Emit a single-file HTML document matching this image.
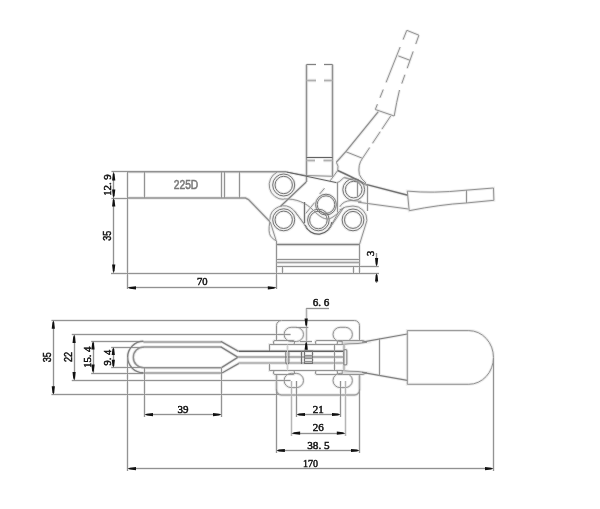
<!DOCTYPE html>
<html><head><meta charset="utf-8"><style>
html,body{margin:0;padding:0;background:#fff;width:600px;height:509px;overflow:hidden}
svg{display:block;will-change:transform}

</style></head><body><div id="w">
<svg width="600" height="509" viewBox="0 0 600 509">
<rect width="600" height="509" fill="#fff"/>
<g><line x1="111.5" y1="171.5" x2="128" y2="171.5" stroke="#ececec" stroke-width="3.0"/>
<line x1="111.5" y1="198.5" x2="128" y2="198.5" stroke="#ececec" stroke-width="3.0"/>
<line x1="111" y1="273.5" x2="128" y2="273.5" stroke="#ececec" stroke-width="3.0"/>
<line x1="113.5" y1="172" x2="113.5" y2="273" stroke="#ececec" stroke-width="3.0"/>
<polyline points="127.5,171.8 286.5,171.8" fill="none" stroke="#ececec" stroke-width="3.5"/>
<polyline points="286.5,172 306,175.5 332.5,176.3" fill="none" stroke="#ececec" stroke-width="3.0"/>
<polyline points="127.5,198 245.5,198 248.5,199.5 270,221.8" fill="none" stroke="#ececec" stroke-width="3.4"/>
<line x1="127.5" y1="172" x2="127.5" y2="289" stroke="#ececec" stroke-width="3.0"/>
<line x1="144.5" y1="172" x2="144.5" y2="198" stroke="#ececec" stroke-width="3.0"/>
<line x1="221.5" y1="172" x2="221.5" y2="198" stroke="#ececec" stroke-width="3.0"/>
<line x1="224.5" y1="172" x2="224.5" y2="198" stroke="#ececec" stroke-width="3.0"/>
<line x1="239.5" y1="172" x2="239.5" y2="198" stroke="#ececec" stroke-width="3.0"/>
<line x1="127.5" y1="273.5" x2="379" y2="273.5" stroke="#ececec" stroke-width="3.0"/>
<line x1="276.5" y1="273" x2="276.5" y2="289" stroke="#ececec" stroke-width="3.0"/>
<line x1="127.5" y1="287.5" x2="276.3" y2="287.5" stroke="#ececec" stroke-width="3.0"/>
<line x1="306.5" y1="64.5" x2="306.5" y2="182" stroke="#ececec" stroke-width="3.4"/>
<line x1="332.5" y1="64.5" x2="332.5" y2="176.5" stroke="#ececec" stroke-width="3.4"/>
<line x1="306.5" y1="64.5" x2="316" y2="64.5" stroke="#ececec" stroke-width="3.0"/>
<line x1="324" y1="64.5" x2="332.5" y2="64.5" stroke="#ececec" stroke-width="3.0"/>
<line x1="306.5" y1="80.5" x2="316" y2="80.5" stroke="#ececec" stroke-width="3.6"/>
<line x1="324" y1="80.5" x2="332.5" y2="80.5" stroke="#ececec" stroke-width="3.6"/>
<line x1="306.5" y1="157.5" x2="332.5" y2="157.5" stroke="#ececec" stroke-width="3.0"/>
<line x1="306.5" y1="160.5" x2="315" y2="160.5" stroke="#ececec" stroke-width="3.6"/>
<line x1="323.5" y1="160.5" x2="332.5" y2="160.5" stroke="#ececec" stroke-width="3.6"/>
<line x1="306.2" y1="182" x2="280.6" y2="206.2" stroke="#ececec" stroke-width="3.3"/>
<line x1="286.5" y1="172" x2="336.3" y2="182.6" stroke="#ececec" stroke-width="3.0"/>
<polyline points="406.8,30.3 418.9,35.2" fill="none" stroke="#ececec" stroke-width="3.0"/>
<line x1="406.8" y1="30.3" x2="403.1" y2="39.6" stroke="#ececec" stroke-width="3.0"/>
<line x1="400.16" y1="47" x2="386.08" y2="82.4" stroke="#ececec" stroke-width="3.0"/>
<line x1="383.25" y1="89.5" x2="379.99" y2="97.7" stroke="#ececec" stroke-width="3.0"/>
<line x1="377.41" y1="104.2" x2="375.3" y2="109.5" stroke="#ececec" stroke-width="3.0"/>
<line x1="418.9" y1="35.2" x2="415.75" y2="44.1" stroke="#ececec" stroke-width="3.0"/>
<line x1="413.16" y1="51.4" x2="407.18" y2="68.3" stroke="#ececec" stroke-width="3.0"/>
<line x1="404.92" y1="74.7" x2="401.77" y2="83.6" stroke="#ececec" stroke-width="3.0"/>
<path d="M399.5,90 Q396.5,102 394.2,116" fill="none" stroke="#ececec" stroke-width="3.0"/>
<line x1="398.3" y1="55.9" x2="410" y2="60.3" stroke="#ececec" stroke-width="3.0"/>
<line x1="375.3" y1="109.5" x2="394.2" y2="116" stroke="#ececec" stroke-width="3.0"/>
<polyline points="378.3,111.7 345.8,151.7 336.3,162.2" fill="none" stroke="#ececec" stroke-width="3.3"/>
<line x1="390.8" y1="115.8" x2="381.88" y2="129.2" stroke="#ececec" stroke-width="3.0"/>
<line x1="380.21" y1="131.7" x2="372.49" y2="143.3" stroke="#ececec" stroke-width="3.0"/>
<line x1="369.69" y1="147.5" x2="362.5" y2="158.3" stroke="#ececec" stroke-width="3.0"/>
<path d="M362.5,158.3 Q357.5,165 359.4,174.6 Q361,179 366,183" fill="none" stroke="#ececec" stroke-width="3.0"/>
<line x1="345.8" y1="151.7" x2="362.5" y2="158.3" stroke="#ececec" stroke-width="3.0"/>
<path d="M336.3,162.2 Q339,166 337.7,170.5" fill="none" stroke="#ececec" stroke-width="3.0"/>
<line x1="337.7" y1="170.5" x2="329.4" y2="181.8" stroke="#ececec" stroke-width="3.0"/>
<path d="M337.7,170.5 Q350,176 366,184.4 L407.8,195.2" fill="none" stroke="#ececec" stroke-width="3.5"/>
<polyline points="336.3,182.8 339.2,181.8 344.1,177.4" fill="none" stroke="#ececec" stroke-width="3.0"/>
<path d="M344.1,177.4 Q358,180.5 367.5,185.6" fill="none" stroke="#ececec" stroke-width="3.5"/>
<line x1="358" y1="202.2" x2="408.3" y2="209" stroke="#ececec" stroke-width="3.0"/>
<path d="M407.3,191.1 Q432,193.6 466,190.2 L493.5,188 L493.9,200.3 L466,203 Q440,204.5 409.2,210.7 Z" fill="none" stroke="#ececec" stroke-width="3.0"/>
<line x1="466.5" y1="190.2" x2="466.5" y2="203" stroke="#ececec" stroke-width="3.0"/>
<circle cx="283.7" cy="185" r="8.7" fill="none" stroke="#ececec" stroke-width="3.0"/>
<circle cx="283.7" cy="185" r="11" fill="none" stroke="#ececec" stroke-width="3.0"/>
<circle cx="283.7" cy="219.8" r="8.7" fill="none" stroke="#ececec" stroke-width="3.0"/>
<circle cx="283.7" cy="219.8" r="11" fill="none" stroke="#ececec" stroke-width="3.0"/>
<circle cx="326" cy="204.6" r="8.8" fill="none" stroke="#ececec" stroke-width="3.0"/>
<circle cx="326" cy="204.6" r="10.4" fill="none" stroke="#ececec" stroke-width="3.0"/>
<circle cx="318.4" cy="220" r="8.8" fill="none" stroke="#ececec" stroke-width="3.0"/>
<circle cx="318.4" cy="220" r="10.8" fill="none" stroke="#ececec" stroke-width="3.0"/>
<circle cx="353.7" cy="189.6" r="8.3" fill="none" stroke="#ececec" stroke-width="3.0"/>
<circle cx="353.7" cy="189.6" r="10.9" fill="none" stroke="#ececec" stroke-width="3.0"/>
<circle cx="353" cy="219.9" r="8.5" fill="none" stroke="#ececec" stroke-width="3.0"/>
<circle cx="353" cy="219.9" r="10.9" fill="none" stroke="#ececec" stroke-width="3.0"/>
<path d="M277,172.2 A14.4,14.4 0 0 0 283.7,199.4" fill="none" stroke="#ececec" stroke-width="3.0"/>
<path d="M269.9,219.7 A13.8,13.8 0 0 1 293.46,209.94" fill="none" stroke="#ececec" stroke-width="3.0"/>
<line x1="293.46" y1="209.94" x2="304.2" y2="223.6" stroke="#ececec" stroke-width="3.0"/>
<path d="M305,225 A14,14 0 0 0 332,222" fill="none" stroke="#ececec" stroke-width="3.3"/>
<path d="M339.5,210 Q345,206 353,206 A13.9,13.9 0 0 1 366.9,220.5" fill="none" stroke="#ececec" stroke-width="3.0"/>
<line x1="366.9" y1="220.5" x2="359.5" y2="244.5" stroke="#ececec" stroke-width="3.0"/>
<line x1="367.5" y1="184.5" x2="367.5" y2="211" stroke="#ececec" stroke-width="3.0"/>
<path d="M283.6,198.9 C297,198.5 306,203 313,210 C319,216 323,219 328,219 C333,218.5 339,212 344,207.5" fill="none" stroke="#ececec" stroke-width="3.0"/>
<line x1="304.5" y1="202" x2="304.5" y2="223.2" stroke="#ececec" stroke-width="3.2"/>
<line x1="337.5" y1="182.8" x2="337.5" y2="212.4" stroke="#ececec" stroke-width="3.0"/>
<line x1="357.5" y1="181" x2="357.5" y2="196.3" stroke="#ececec" stroke-width="3.0"/>
<line x1="324.5" y1="188.2" x2="319.6" y2="194.1" stroke="#ececec" stroke-width="3.0"/>
<line x1="314.6" y1="202.6" x2="305.8" y2="213.4" stroke="#ececec" stroke-width="3.0"/>
<line x1="295" y1="211.4" x2="306.8" y2="228.1" stroke="#ececec" stroke-width="3.0"/>
<line x1="328.4" y1="230" x2="343.1" y2="208.5" stroke="#ececec" stroke-width="3.0"/>
<path d="M339.8,206.8 Q343,201 351,200.5 Q357,201 361.4,201.4" fill="none" stroke="#ececec" stroke-width="3.0"/>
<line x1="338.8" y1="211.7" x2="330" y2="227.4" stroke="#ececec" stroke-width="3.0"/>
<path d="M269.8,222 Q268,232 270.5,236 Q273,239.5 276.2,240.8" fill="none" stroke="#ececec" stroke-width="3.0"/>
<line x1="270.3" y1="222" x2="276.2" y2="240.8" stroke="#ececec" stroke-width="3.0"/>
<line x1="276.3" y1="244.5" x2="359.7" y2="244.5" stroke="#ececec" stroke-width="3.3"/>
<line x1="276.5" y1="240.8" x2="276.5" y2="273" stroke="#ececec" stroke-width="3.0"/>
<line x1="359.5" y1="244.9" x2="359.5" y2="273" stroke="#ececec" stroke-width="3.0"/>
<line x1="276.3" y1="259.5" x2="359.7" y2="259.5" stroke="#ececec" stroke-width="3.0"/>
<line x1="276.3" y1="262.5" x2="359.7" y2="262.5" stroke="#ececec" stroke-width="3.3"/>
<line x1="276.3" y1="266.5" x2="378.8" y2="266.5" stroke="#ececec" stroke-width="3.0"/>
<line x1="282.5" y1="266.6" x2="282.5" y2="273" stroke="#ececec" stroke-width="3.0"/>
<line x1="353.5" y1="266.6" x2="353.5" y2="273" stroke="#ececec" stroke-width="3.0"/>
<line x1="376.5" y1="253" x2="376.5" y2="266.6" stroke="#ececec" stroke-width="3.0"/>
<line x1="376.5" y1="273" x2="376.5" y2="283" stroke="#ececec" stroke-width="3.0"/>
<line x1="51.5" y1="320.5" x2="281" y2="320.5" stroke="#ececec" stroke-width="3.0"/>
<line x1="51.5" y1="394.5" x2="281" y2="394.5" stroke="#ececec" stroke-width="3.0"/>
<line x1="71.8" y1="334.5" x2="290.6" y2="334.5" stroke="#ececec" stroke-width="3.0"/>
<line x1="71.8" y1="380.5" x2="290.6" y2="380.5" stroke="#ececec" stroke-width="3.0"/>
<line x1="91.2" y1="341.5" x2="143.6" y2="341.5" stroke="#ececec" stroke-width="3.0"/>
<line x1="91.2" y1="373.5" x2="143.6" y2="373.5" stroke="#ececec" stroke-width="3.0"/>
<line x1="111.2" y1="347.5" x2="143.6" y2="347.5" stroke="#ececec" stroke-width="3.0"/>
<line x1="111.2" y1="367.5" x2="143.6" y2="367.5" stroke="#ececec" stroke-width="3.0"/>
<line x1="53.5" y1="320.2" x2="53.5" y2="394.8" stroke="#ececec" stroke-width="3.0"/>
<line x1="74.5" y1="334.4" x2="74.5" y2="380.5" stroke="#ececec" stroke-width="3.0"/>
<line x1="93.5" y1="341" x2="93.5" y2="373" stroke="#ececec" stroke-width="3.0"/>
<line x1="113.5" y1="347.1" x2="113.5" y2="367.8" stroke="#ececec" stroke-width="3.0"/>
<line x1="143.4" y1="342" x2="221.3" y2="342" stroke="#ececec" stroke-width="4.2"/>
<line x1="143.4" y1="373" x2="221.3" y2="373" stroke="#ececec" stroke-width="4.2"/>
<path d="M143.4,341.3 A15.75,15.75 0 0 0 143.4,372.8" fill="none" stroke="#ececec" stroke-width="3.4"/>
<path d="M221.3,347 L143.7,347 A10.4,10.4 0 0 0 143.7,367.8 L221.3,367.8" fill="none" stroke="#ececec" stroke-width="3.5"/>
<polyline points="220.8,341.3 238.5,351.3" fill="none" stroke="#ececec" stroke-width="3.4"/>
<polyline points="220.8,346.8 237.7,357.2" fill="none" stroke="#ececec" stroke-width="3.4"/>
<polyline points="221.5,367.7 237.7,357.4" fill="none" stroke="#ececec" stroke-width="3.4"/>
<polyline points="222,373 239.4,363.1" fill="none" stroke="#ececec" stroke-width="3.4"/>
<line x1="144.5" y1="367.8" x2="144.5" y2="417" stroke="#ececec" stroke-width="3.0"/>
<line x1="221.5" y1="367.8" x2="221.5" y2="417" stroke="#ececec" stroke-width="3.0"/>
<line x1="144.5" y1="414.5" x2="221.5" y2="414.5" stroke="#ececec" stroke-width="3.0"/>
<line x1="127.5" y1="357" x2="127.5" y2="471" stroke="#ececec" stroke-width="3.0"/>
<line x1="493.5" y1="358" x2="493.5" y2="471" stroke="#ececec" stroke-width="3.0"/>
<line x1="127.5" y1="468.5" x2="493.5" y2="468.5" stroke="#ececec" stroke-width="3.0"/>
<path d="M276.5,340.5 L276.5,325.5 A5,5 0 0 1 281.5,320.5 L354.5,320.5 A5,5 0 0 1 359.5,325.5 L359.5,340.5" fill="none" stroke="#ececec" stroke-width="3.0"/>
<path d="M276.5,374.5 L276.5,390 A5,5 0 0 0 281.5,395 L354.5,395 A5,5 0 0 0 359.5,390 L359.5,374.5" fill="none" stroke="#ececec" stroke-width="3.5"/>
<path d="M291.2,327.29999999999995 L296.40000000000003,327.29999999999995 A7.1,7.1 0 0 1 296.40000000000003,341.5 L291.2,341.5 A7.1,7.1 0 0 1 291.2,327.29999999999995 Z" fill="none" stroke="#ececec" stroke-width="3.0"/>
<path d="M340.09999999999997,327.29999999999995 L345.3,327.29999999999995 A7.1,7.1 0 0 1 345.3,341.5 L340.09999999999997,341.5 A7.1,7.1 0 0 1 340.09999999999997,327.29999999999995 Z" fill="none" stroke="#ececec" stroke-width="3.0"/>
<path d="M291.2,373.4 L296.40000000000003,373.4 A7.1,7.1 0 0 1 296.40000000000003,387.6 L291.2,387.6 A7.1,7.1 0 0 1 291.2,373.4 Z" fill="none" stroke="#ececec" stroke-width="3.0"/>
<path d="M340.09999999999997,373.4 L345.3,373.4 A7.1,7.1 0 0 1 345.3,387.6 L340.09999999999997,387.6 A7.1,7.1 0 0 1 340.09999999999997,373.4 Z" fill="none" stroke="#ececec" stroke-width="3.0"/>
<rect x="273.5" y="340.5" width="21.0" height="4.0" rx="1.5" fill="none" stroke="#ececec" stroke-width="3.0"/>
<rect x="273.5" y="370.5" width="21.0" height="4.0" rx="1.5" fill="none" stroke="#ececec" stroke-width="3.0"/>
<rect x="315.5" y="340.5" width="22.0" height="4.0" rx="1.5" fill="none" stroke="#ececec" stroke-width="3.0"/>
<rect x="315.5" y="370.5" width="22.0" height="4.0" rx="1.5" fill="none" stroke="#ececec" stroke-width="3.0"/>
<line x1="337.5" y1="340.5" x2="342" y2="340.5" stroke="#ececec" stroke-width="3.0"/>
<line x1="337.5" y1="374.5" x2="342" y2="374.5" stroke="#ececec" stroke-width="3.0"/>
<path d="M342.2,344.5 L342.2,340.5 L362.9,340.5 L367,342.3 L358,343.5 L349,343.8 Z" fill="none" stroke="#ececec" stroke-width="3.0"/>
<path d="M342.2,370.5 L342.2,374.5 L362.9,374.5 L367,372.7 L358,371.5 L349,371.2 Z" fill="none" stroke="#ececec" stroke-width="3.0"/>
<polyline points="343.6,344.5 269.5,344.5 269.5,351" fill="none" stroke="#ececec" stroke-width="3.0"/>
<polyline points="343.6,370.5 269.5,370.5 269.5,363.5" fill="none" stroke="#ececec" stroke-width="3.0"/>
<polyline points="238.7,351.2 343.6,351.2" fill="none" stroke="#ececec" stroke-width="3.4"/>
<line x1="238" y1="357" x2="343.6" y2="357" stroke="#ececec" stroke-width="4.0"/>
<line x1="238.7" y1="363" x2="343.6" y2="363" stroke="#ececec" stroke-width="4.0"/>
<line x1="334.5" y1="344.5" x2="334.5" y2="370.5" stroke="#ececec" stroke-width="3.0"/>
<line x1="344" y1="344.5" x2="344" y2="370.5" stroke="#ececec" stroke-width="4.0"/>
<rect x="343.6" y="349.7" width="3.1999999999999886" height="15.100000000000023" rx="1" fill="none" stroke="#ececec" stroke-width="3.2"/>
<path d="M285.8,351 L285.8,362.5 Q285.8,364.3 287.3,364.3 Q288.9,364.3 288.9,362.5 L288.9,351" fill="none" stroke="#ececec" stroke-width="3.0"/>
<line x1="287.5" y1="344.5" x2="287.5" y2="370.5" stroke="#ececec" stroke-width="3.0"/>
<line x1="301.5" y1="351" x2="301.5" y2="364" stroke="#ececec" stroke-width="3.2"/>
<polygon points="304.5,351 312.5,351 312.5,363.5 304.5,363.5" fill="none" stroke="#ececec" stroke-width="3.1"/>
<line x1="304.4" y1="355.5" x2="312.7" y2="355.5" stroke="#ececec" stroke-width="3.0"/>
<line x1="304.4" y1="358.5" x2="312.7" y2="358.5" stroke="#ececec" stroke-width="3.0"/>
<line x1="304.4" y1="361.5" x2="312.7" y2="361.5" stroke="#ececec" stroke-width="3.0"/>
<line x1="362.1" y1="342.1" x2="407.3" y2="334" stroke="#ececec" stroke-width="3.2"/>
<line x1="362.1" y1="372.3" x2="407.3" y2="380.4" stroke="#ececec" stroke-width="3.2"/>
<line x1="379.5" y1="338.4" x2="379.5" y2="375.7" stroke="#ececec" stroke-width="3.0"/>
<path d="M468.8,330.6 L407.3,330.6 L407.3,384.3 L468.8,384.3 A24.7,26.85 0 0 0 468.8,330.6" fill="none" stroke="#ececec" stroke-width="3.0"/>
<line x1="306.5" y1="308.3" x2="306.5" y2="349.9" stroke="#ececec" stroke-width="3.2"/>
<line x1="306.2" y1="308.5" x2="329" y2="308.5" stroke="#ececec" stroke-width="3.0"/>
<line x1="296" y1="327.5" x2="308.3" y2="327.5" stroke="#ececec" stroke-width="3.0"/>
<line x1="300" y1="341.5" x2="312" y2="341.5" stroke="#ececec" stroke-width="3.0"/>
<line x1="296.5" y1="381" x2="296.5" y2="417" stroke="#ececec" stroke-width="3.0"/>
<line x1="340.5" y1="381" x2="340.5" y2="417" stroke="#ececec" stroke-width="3.0"/>
<line x1="296.5" y1="414.5" x2="340.5" y2="414.5" stroke="#ececec" stroke-width="3.0"/>
<line x1="291.5" y1="381" x2="291.5" y2="436" stroke="#ececec" stroke-width="3.0"/>
<line x1="345.5" y1="381" x2="345.5" y2="436" stroke="#ececec" stroke-width="3.0"/>
<line x1="291.6" y1="433.5" x2="345.3" y2="433.5" stroke="#ececec" stroke-width="3.0"/>
<line x1="276.5" y1="389" x2="276.5" y2="453" stroke="#ececec" stroke-width="3.0"/>
<line x1="359.5" y1="389" x2="359.5" y2="453" stroke="#ececec" stroke-width="3.0"/>
<line x1="276.4" y1="450.5" x2="359.5" y2="450.5" stroke="#ececec" stroke-width="3.0"/></g>
<line x1="111.5" y1="171.5" x2="128" y2="171.5" stroke="#939393" stroke-width="1.0"/>
<line x1="111.5" y1="198.5" x2="128" y2="198.5" stroke="#939393" stroke-width="1.0"/>
<line x1="111" y1="273.5" x2="128" y2="273.5" stroke="#939393" stroke-width="1.0"/>
<line x1="113.5" y1="172" x2="113.5" y2="273" stroke="#919191" stroke-width="1.0"/>
<polygon points="113.70,172.50 114.60,174.50 115.30,180.50 112.10,180.50 112.80,174.50" fill="#111"/>
<polygon points="113.70,197.50 112.80,195.50 112.10,189.50 115.30,189.50 114.60,195.50" fill="#111"/>
<polygon points="113.70,198.50 114.60,200.50 115.30,206.50 112.10,206.50 112.80,200.50" fill="#111"/>
<polygon points="113.70,272.50 112.80,270.50 112.10,264.50 115.30,264.50 114.60,270.50" fill="#111"/>
<text x="111.3" y="185" font-family="Liberation Serif" font-size="11" text-anchor="middle" fill="#111" stroke="#111" stroke-width="0.5" transform="rotate(-90 111.3 185)" textLength="21.5" lengthAdjust="spacingAndGlyphs" xml:space="preserve">12. 9</text>
<text x="111.5" y="235.8" font-family="Liberation Sans" font-size="10.5" text-anchor="middle" fill="#111" stroke="#111" stroke-width="0.5" transform="rotate(-90 111.5 235.8)" textLength="10" lengthAdjust="spacingAndGlyphs" xml:space="preserve">35</text>
<polyline points="127.5,171.8 286.5,171.8" fill="none" stroke="#919191" stroke-width="1.5"/>
<polyline points="286.5,172 306,175.5 332.5,176.3" fill="none" stroke="#939393" stroke-width="1.0"/>
<polyline points="127.5,198 245.5,198 248.5,199.5 270,221.8" fill="none" stroke="#919191" stroke-width="1.4"/>
<line x1="127.5" y1="172" x2="127.5" y2="289" stroke="#939393" stroke-width="1.0"/>
<line x1="144.5" y1="172" x2="144.5" y2="198" stroke="#939393" stroke-width="1.0"/>
<line x1="221.5" y1="172" x2="221.5" y2="198" stroke="#939393" stroke-width="1.0"/>
<line x1="224.5" y1="172" x2="224.5" y2="198" stroke="#939393" stroke-width="1.0"/>
<line x1="239.5" y1="172" x2="239.5" y2="198" stroke="#939393" stroke-width="1.0"/>
<text x="186" y="189" font-family="Liberation Sans" font-size="12" text-anchor="middle" fill="#777" stroke="#777" stroke-width="0.55" textLength="24.5" lengthAdjust="spacingAndGlyphs" xml:space="preserve">225D</text>
<line x1="127.5" y1="273.5" x2="379" y2="273.5" stroke="#939393" stroke-width="1.0"/>
<line x1="276.5" y1="273" x2="276.5" y2="289" stroke="#939393" stroke-width="1.0"/>
<line x1="127.5" y1="287.5" x2="276.3" y2="287.5" stroke="#919191" stroke-width="1.0"/>
<polygon points="128.00,287.80 130.00,286.90 136.00,286.20 136.00,289.40 130.00,288.70" fill="#111"/>
<polygon points="275.80,287.80 273.80,288.70 267.80,289.40 267.80,286.20 273.80,286.90" fill="#111"/>
<text x="202.3" y="285.1" font-family="Liberation Serif" font-size="11" text-anchor="middle" fill="#111" stroke="#111" stroke-width="0.5" textLength="10.6" lengthAdjust="spacingAndGlyphs" xml:space="preserve">70</text>
<line x1="306.5" y1="64.5" x2="306.5" y2="182" stroke="#919191" stroke-width="1.4"/>
<line x1="332.5" y1="64.5" x2="332.5" y2="176.5" stroke="#919191" stroke-width="1.4"/>
<line x1="306.5" y1="64.5" x2="316" y2="64.5" stroke="#818181" stroke-width="1.0"/>
<line x1="324" y1="64.5" x2="332.5" y2="64.5" stroke="#818181" stroke-width="1.0"/>
<line x1="306.5" y1="80.5" x2="316" y2="80.5" stroke="#b0b0b0" stroke-width="1.6"/>
<line x1="324" y1="80.5" x2="332.5" y2="80.5" stroke="#b0b0b0" stroke-width="1.6"/>
<line x1="306.5" y1="157.5" x2="332.5" y2="157.5" stroke="#626262" stroke-width="1.0"/>
<line x1="306.5" y1="160.5" x2="315" y2="160.5" stroke="#b0b0b0" stroke-width="1.6"/>
<line x1="323.5" y1="160.5" x2="332.5" y2="160.5" stroke="#b0b0b0" stroke-width="1.6"/>
<line x1="306.2" y1="182" x2="280.6" y2="206.2" stroke="#818181" stroke-width="1.3"/>
<line x1="286.5" y1="172" x2="336.3" y2="182.6" stroke="#626262" stroke-width="1.0"/>
<polyline points="406.8,30.3 418.9,35.2" fill="none" stroke="#939393" stroke-width="1.0"/>
<line x1="406.8" y1="30.3" x2="403.1" y2="39.6" stroke="#939393" stroke-width="1.0"/>
<line x1="400.16" y1="47" x2="386.08" y2="82.4" stroke="#939393" stroke-width="1.0"/>
<line x1="383.25" y1="89.5" x2="379.99" y2="97.7" stroke="#939393" stroke-width="1.0"/>
<line x1="377.41" y1="104.2" x2="375.3" y2="109.5" stroke="#939393" stroke-width="1.0"/>
<line x1="418.9" y1="35.2" x2="415.75" y2="44.1" stroke="#939393" stroke-width="1.0"/>
<line x1="413.16" y1="51.4" x2="407.18" y2="68.3" stroke="#939393" stroke-width="1.0"/>
<line x1="404.92" y1="74.7" x2="401.77" y2="83.6" stroke="#939393" stroke-width="1.0"/>
<path d="M399.5,90 Q396.5,102 394.2,116" fill="none" stroke="#939393" stroke-width="1.0"/>
<line x1="398.3" y1="55.9" x2="410" y2="60.3" stroke="#939393" stroke-width="1.0"/>
<line x1="375.3" y1="109.5" x2="394.2" y2="116" stroke="#939393" stroke-width="1.0"/>
<polyline points="378.3,111.7 345.8,151.7 336.3,162.2" fill="none" stroke="#919191" stroke-width="1.3"/>
<line x1="390.8" y1="115.8" x2="381.88" y2="129.2" stroke="#939393" stroke-width="1.0"/>
<line x1="380.21" y1="131.7" x2="372.49" y2="143.3" stroke="#939393" stroke-width="1.0"/>
<line x1="369.69" y1="147.5" x2="362.5" y2="158.3" stroke="#939393" stroke-width="1.0"/>
<path d="M362.5,158.3 Q357.5,165 359.4,174.6 Q361,179 366,183" fill="none" stroke="#939393" stroke-width="1.0"/>
<line x1="345.8" y1="151.7" x2="362.5" y2="158.3" stroke="#939393" stroke-width="1.0"/>
<path d="M336.3,162.2 Q339,166 337.7,170.5" fill="none" stroke="#939393" stroke-width="1.0"/>
<line x1="337.7" y1="170.5" x2="329.4" y2="181.8" stroke="#939393" stroke-width="1.0"/>
<path d="M337.7,170.5 Q350,176 366,184.4 L407.8,195.2" fill="none" stroke="#727272" stroke-width="1.5"/>
<polyline points="336.3,182.8 339.2,181.8 344.1,177.4" fill="none" stroke="#939393" stroke-width="1.0"/>
<path d="M344.1,177.4 Q358,180.5 367.5,185.6" fill="none" stroke="#a1a1a1" stroke-width="1.5"/>
<line x1="358" y1="202.2" x2="408.3" y2="209" stroke="#939393" stroke-width="1.0"/>
<path d="M407.3,191.1 Q432,193.6 466,190.2 L493.5,188 L493.9,200.3 L466,203 Q440,204.5 409.2,210.7 Z" fill="none" stroke="#939393" stroke-width="1.0"/>
<line x1="466.5" y1="190.2" x2="466.5" y2="203" stroke="#939393" stroke-width="1.0"/>
<circle cx="283.7" cy="185" r="8.7" fill="none" stroke="#757575" stroke-width="1.0"/>
<circle cx="283.7" cy="185" r="11" fill="none" stroke="#757575" stroke-width="1.0"/>
<circle cx="283.7" cy="219.8" r="8.7" fill="none" stroke="#757575" stroke-width="1.0"/>
<circle cx="283.7" cy="219.8" r="11" fill="none" stroke="#757575" stroke-width="1.0"/>
<circle cx="326" cy="204.6" r="8.8" fill="none" stroke="#757575" stroke-width="1.0"/>
<circle cx="326" cy="204.6" r="10.4" fill="none" stroke="#757575" stroke-width="1.0"/>
<circle cx="318.4" cy="220" r="8.8" fill="none" stroke="#757575" stroke-width="1.0"/>
<circle cx="318.4" cy="220" r="10.8" fill="none" stroke="#757575" stroke-width="1.0"/>
<circle cx="353.7" cy="189.6" r="8.3" fill="none" stroke="#757575" stroke-width="1.0"/>
<circle cx="353.7" cy="189.6" r="10.9" fill="none" stroke="#757575" stroke-width="1.0"/>
<circle cx="353" cy="219.9" r="8.5" fill="none" stroke="#757575" stroke-width="1.0"/>
<circle cx="353" cy="219.9" r="10.9" fill="none" stroke="#757575" stroke-width="1.0"/>
<path d="M277,172.2 A14.4,14.4 0 0 0 283.7,199.4" fill="none" stroke="#939393" stroke-width="1.0"/>
<path d="M269.9,219.7 A13.8,13.8 0 0 1 293.46,209.94" fill="none" stroke="#939393" stroke-width="1.0"/>
<line x1="293.46" y1="209.94" x2="304.2" y2="223.6" stroke="#939393" stroke-width="1.0"/>
<path d="M305,225 A14,14 0 0 0 332,222" fill="none" stroke="#626262" stroke-width="1.3"/>
<path d="M339.5,210 Q345,206 353,206 A13.9,13.9 0 0 1 366.9,220.5" fill="none" stroke="#939393" stroke-width="1.0"/>
<line x1="366.9" y1="220.5" x2="359.5" y2="244.5" stroke="#939393" stroke-width="1.0"/>
<line x1="367.5" y1="184.5" x2="367.5" y2="211" stroke="#939393" stroke-width="1.0"/>
<path d="M283.6,198.9 C297,198.5 306,203 313,210 C319,216 323,219 328,219 C333,218.5 339,212 344,207.5" fill="none" stroke="#939393" stroke-width="1.0"/>
<line x1="304.5" y1="202" x2="304.5" y2="223.2" stroke="#727272" stroke-width="1.2"/>
<line x1="337.5" y1="182.8" x2="337.5" y2="212.4" stroke="#939393" stroke-width="1.0"/>
<line x1="357.5" y1="181" x2="357.5" y2="196.3" stroke="#939393" stroke-width="1.0"/>
<line x1="324.5" y1="188.2" x2="319.6" y2="194.1" stroke="#939393" stroke-width="1.0"/>
<line x1="314.6" y1="202.6" x2="305.8" y2="213.4" stroke="#939393" stroke-width="1.0"/>
<line x1="295" y1="211.4" x2="306.8" y2="228.1" stroke="#939393" stroke-width="1.0"/>
<line x1="328.4" y1="230" x2="343.1" y2="208.5" stroke="#939393" stroke-width="1.0"/>
<path d="M339.8,206.8 Q343,201 351,200.5 Q357,201 361.4,201.4" fill="none" stroke="#939393" stroke-width="1.0"/>
<line x1="338.8" y1="211.7" x2="330" y2="227.4" stroke="#939393" stroke-width="1.0"/>
<path d="M269.8,222 Q268,232 270.5,236 Q273,239.5 276.2,240.8" fill="none" stroke="#939393" stroke-width="1.0"/>
<line x1="270.3" y1="222" x2="276.2" y2="240.8" stroke="#939393" stroke-width="1.0"/>
<line x1="276.3" y1="244.5" x2="359.7" y2="244.5" stroke="#818181" stroke-width="1.3"/>
<line x1="276.5" y1="240.8" x2="276.5" y2="273" stroke="#939393" stroke-width="1.0"/>
<line x1="359.5" y1="244.9" x2="359.5" y2="273" stroke="#939393" stroke-width="1.0"/>
<line x1="276.3" y1="259.5" x2="359.7" y2="259.5" stroke="#939393" stroke-width="1.0"/>
<line x1="276.3" y1="262.5" x2="359.7" y2="262.5" stroke="#a1a1a1" stroke-width="1.3"/>
<line x1="276.3" y1="266.5" x2="378.8" y2="266.5" stroke="#939393" stroke-width="1.0"/>
<line x1="282.5" y1="266.6" x2="282.5" y2="273" stroke="#939393" stroke-width="1.0"/>
<line x1="353.5" y1="266.6" x2="353.5" y2="273" stroke="#939393" stroke-width="1.0"/>
<line x1="376.5" y1="253" x2="376.5" y2="266.6" stroke="#919191" stroke-width="1.0"/>
<polygon points="376.60,266.10 375.70,264.10 375.00,258.10 378.20,258.10 377.50,264.10" fill="#111"/>
<line x1="376.5" y1="273" x2="376.5" y2="283" stroke="#919191" stroke-width="1.0"/>
<polygon points="376.60,273.50 377.50,275.50 378.20,281.50 375.00,281.50 375.70,275.50" fill="#111"/>
<text x="373.6" y="253.4" font-family="Liberation Serif" font-size="10.5" text-anchor="middle" fill="#111" stroke="#111" stroke-width="0.5" transform="rotate(-90 373.6 253.4)" xml:space="preserve">3</text>
<line x1="51.5" y1="320.5" x2="281" y2="320.5" stroke="#939393" stroke-width="1.0"/>
<line x1="51.5" y1="394.5" x2="281" y2="394.5" stroke="#939393" stroke-width="1.0"/>
<line x1="71.8" y1="334.5" x2="290.6" y2="334.5" stroke="#939393" stroke-width="1.0"/>
<line x1="71.8" y1="380.5" x2="290.6" y2="380.5" stroke="#939393" stroke-width="1.0"/>
<line x1="91.2" y1="341.5" x2="143.6" y2="341.5" stroke="#939393" stroke-width="1.0"/>
<line x1="91.2" y1="373.5" x2="143.6" y2="373.5" stroke="#939393" stroke-width="1.0"/>
<line x1="111.2" y1="347.5" x2="143.6" y2="347.5" stroke="#939393" stroke-width="1.0"/>
<line x1="111.2" y1="367.5" x2="143.6" y2="367.5" stroke="#939393" stroke-width="1.0"/>
<line x1="53.5" y1="320.2" x2="53.5" y2="394.8" stroke="#919191" stroke-width="1.0"/>
<polygon points="53.30,320.70 54.20,322.70 54.90,328.70 51.70,328.70 52.40,322.70" fill="#111"/>
<polygon points="53.30,394.30 52.40,392.30 51.70,386.30 54.90,386.30 54.20,392.30" fill="#111"/>
<line x1="74.5" y1="334.4" x2="74.5" y2="380.5" stroke="#919191" stroke-width="1.0"/>
<polygon points="74.10,334.90 75.00,336.90 75.70,342.90 72.50,342.90 73.20,336.90" fill="#111"/>
<polygon points="74.10,380.00 73.20,378.00 72.50,372.00 75.70,372.00 75.00,378.00" fill="#111"/>
<line x1="93.5" y1="341" x2="93.5" y2="373" stroke="#919191" stroke-width="1.0"/>
<polygon points="93.00,341.50 93.90,343.50 94.60,349.50 91.40,349.50 92.10,343.50" fill="#111"/>
<polygon points="93.00,372.50 92.10,370.50 91.40,364.50 94.60,364.50 93.90,370.50" fill="#111"/>
<line x1="113.5" y1="347.1" x2="113.5" y2="367.8" stroke="#919191" stroke-width="1.0"/>
<polygon points="113.30,347.60 114.20,349.60 114.90,355.10 111.70,355.10 112.40,349.60" fill="#111"/>
<polygon points="113.30,367.30 112.40,365.30 111.70,359.80 114.90,359.80 114.20,365.30" fill="#111"/>
<text x="51.3" y="357.2" font-family="Liberation Sans" font-size="10.5" text-anchor="middle" fill="#111" stroke="#111" stroke-width="0.5" transform="rotate(-90 51.3 357.2)" textLength="10" lengthAdjust="spacingAndGlyphs" xml:space="preserve">35</text>
<text x="71.7" y="357" font-family="Liberation Sans" font-size="10.5" text-anchor="middle" fill="#111" stroke="#111" stroke-width="0.5" transform="rotate(-90 71.7 357)" textLength="10" lengthAdjust="spacingAndGlyphs" xml:space="preserve">22</text>
<text x="91" y="357.2" font-family="Liberation Serif" font-size="11" text-anchor="middle" fill="#111" stroke="#111" stroke-width="0.5" transform="rotate(-90 91 357.2)" textLength="21.2" lengthAdjust="spacingAndGlyphs" xml:space="preserve">15. 4</text>
<text x="111.5" y="357.7" font-family="Liberation Serif" font-size="11" text-anchor="middle" fill="#111" stroke="#111" stroke-width="0.5" transform="rotate(-90 111.5 357.7)" textLength="15.6" lengthAdjust="spacingAndGlyphs" xml:space="preserve">9. 4</text>
<line x1="143.4" y1="342" x2="221.3" y2="342" stroke="#b0b0b0" stroke-width="2.2"/>
<line x1="143.4" y1="373" x2="221.3" y2="373" stroke="#b0b0b0" stroke-width="2.2"/>
<path d="M143.4,341.3 A15.75,15.75 0 0 0 143.4,372.8" fill="none" stroke="#818181" stroke-width="1.4"/>
<path d="M221.3,347 L143.7,347 A10.4,10.4 0 0 0 143.7,367.8 L221.3,367.8" fill="none" stroke="#919191" stroke-width="1.5"/>
<polyline points="220.8,341.3 238.5,351.3" fill="none" stroke="#818181" stroke-width="1.4"/>
<polyline points="220.8,346.8 237.7,357.2" fill="none" stroke="#818181" stroke-width="1.4"/>
<polyline points="221.5,367.7 237.7,357.4" fill="none" stroke="#818181" stroke-width="1.4"/>
<polyline points="222,373 239.4,363.1" fill="none" stroke="#818181" stroke-width="1.4"/>
<line x1="144.5" y1="367.8" x2="144.5" y2="417" stroke="#939393" stroke-width="1.0"/>
<line x1="221.5" y1="367.8" x2="221.5" y2="417" stroke="#939393" stroke-width="1.0"/>
<line x1="144.5" y1="414.5" x2="221.5" y2="414.5" stroke="#919191" stroke-width="1.0"/>
<polygon points="145.00,414.60 147.00,413.70 153.00,413.00 153.00,416.20 147.00,415.50" fill="#111"/>
<polygon points="221.00,414.60 219.00,415.50 213.00,416.20 213.00,413.00 219.00,413.70" fill="#111"/>
<text x="183" y="412.8" font-family="Liberation Serif" font-size="11" text-anchor="middle" fill="#111" stroke="#111" stroke-width="0.5" textLength="11" lengthAdjust="spacingAndGlyphs" xml:space="preserve">39</text>
<line x1="127.5" y1="357" x2="127.5" y2="471" stroke="#939393" stroke-width="1.0"/>
<line x1="493.5" y1="358" x2="493.5" y2="471" stroke="#939393" stroke-width="1.0"/>
<line x1="127.5" y1="468.5" x2="493.5" y2="468.5" stroke="#919191" stroke-width="1.0"/>
<polygon points="128.00,468.70 130.00,467.80 136.00,467.10 136.00,470.30 130.00,469.60" fill="#111"/>
<polygon points="493.00,468.70 491.00,469.60 485.00,470.30 485.00,467.10 491.00,467.80" fill="#111"/>
<text x="310.4" y="466.7" font-family="Liberation Serif" font-size="11" text-anchor="middle" fill="#111" stroke="#111" stroke-width="0.5" textLength="15" lengthAdjust="spacingAndGlyphs" xml:space="preserve">170</text>
<path d="M276.5,340.5 L276.5,325.5 A5,5 0 0 1 281.5,320.5 L354.5,320.5 A5,5 0 0 1 359.5,325.5 L359.5,340.5" fill="none" stroke="#939393" stroke-width="1.0"/>
<path d="M276.5,374.5 L276.5,390 A5,5 0 0 0 281.5,395 L354.5,395 A5,5 0 0 0 359.5,390 L359.5,374.5" fill="none" stroke="#a1a1a1" stroke-width="1.5"/>
<path d="M291.2,327.29999999999995 L296.40000000000003,327.29999999999995 A7.1,7.1 0 0 1 296.40000000000003,341.5 L291.2,341.5 A7.1,7.1 0 0 1 291.2,327.29999999999995 Z" fill="none" stroke="#939393" stroke-width="1.0"/>
<path d="M340.09999999999997,327.29999999999995 L345.3,327.29999999999995 A7.1,7.1 0 0 1 345.3,341.5 L340.09999999999997,341.5 A7.1,7.1 0 0 1 340.09999999999997,327.29999999999995 Z" fill="none" stroke="#939393" stroke-width="1.0"/>
<path d="M291.2,373.4 L296.40000000000003,373.4 A7.1,7.1 0 0 1 296.40000000000003,387.6 L291.2,387.6 A7.1,7.1 0 0 1 291.2,373.4 Z" fill="none" stroke="#939393" stroke-width="1.0"/>
<path d="M340.09999999999997,373.4 L345.3,373.4 A7.1,7.1 0 0 1 345.3,387.6 L340.09999999999997,387.6 A7.1,7.1 0 0 1 340.09999999999997,373.4 Z" fill="none" stroke="#939393" stroke-width="1.0"/>
<rect x="273.5" y="340.5" width="21.0" height="4.0" rx="1.5" fill="none" stroke="#939393" stroke-width="1.0"/>
<rect x="273.5" y="370.5" width="21.0" height="4.0" rx="1.5" fill="none" stroke="#939393" stroke-width="1.0"/>
<rect x="315.5" y="340.5" width="22.0" height="4.0" rx="1.5" fill="none" stroke="#939393" stroke-width="1.0"/>
<rect x="315.5" y="370.5" width="22.0" height="4.0" rx="1.5" fill="none" stroke="#939393" stroke-width="1.0"/>
<line x1="337.5" y1="340.5" x2="342" y2="340.5" stroke="#939393" stroke-width="1.0"/>
<line x1="337.5" y1="374.5" x2="342" y2="374.5" stroke="#939393" stroke-width="1.0"/>
<path d="M342.2,344.5 L342.2,340.5 L362.9,340.5 L367,342.3 L358,343.5 L349,343.8 Z" fill="#ddd" stroke="#939393" stroke-width="1.0"/>
<path d="M342.2,370.5 L342.2,374.5 L362.9,374.5 L367,372.7 L358,371.5 L349,371.2 Z" fill="#ddd" stroke="#939393" stroke-width="1.0"/>
<polyline points="343.6,344.5 269.5,344.5 269.5,351" fill="none" stroke="#939393" stroke-width="1.0"/>
<polyline points="343.6,370.5 269.5,370.5 269.5,363.5" fill="none" stroke="#939393" stroke-width="1.0"/>
<polyline points="238.7,351.2 343.6,351.2" fill="none" stroke="#626262" stroke-width="1.4"/>
<line x1="238" y1="357" x2="343.6" y2="357" stroke="#b0b0b0" stroke-width="2.0"/>
<line x1="238.7" y1="363" x2="343.6" y2="363" stroke="#bababa" stroke-width="2.0"/>
<line x1="334.5" y1="344.5" x2="334.5" y2="370.5" stroke="#939393" stroke-width="1.0"/>
<line x1="344" y1="344.5" x2="344" y2="370.5" stroke="#c0c0c0" stroke-width="2.0"/>
<rect x="343.6" y="349.7" width="3.1999999999999886" height="15.100000000000023" rx="1" fill="none" stroke="#919191" stroke-width="1.2"/>
<path d="M285.8,351 L285.8,362.5 Q285.8,364.3 287.3,364.3 Q288.9,364.3 288.9,362.5 L288.9,351" fill="none" stroke="#727272" stroke-width="1.0"/>
<line x1="287.5" y1="344.5" x2="287.5" y2="370.5" stroke="#d0d0d0" stroke-width="1.0"/>
<line x1="301.5" y1="351" x2="301.5" y2="364" stroke="#727272" stroke-width="1.2"/>
<polygon points="304.5,351 312.5,351 312.5,363.5 304.5,363.5" fill="none" stroke="#727272" stroke-width="1.1"/>
<line x1="304.4" y1="355.5" x2="312.7" y2="355.5" stroke="#939393" stroke-width="1.0"/>
<line x1="304.4" y1="358.5" x2="312.7" y2="358.5" stroke="#939393" stroke-width="1.0"/>
<line x1="304.4" y1="361.5" x2="312.7" y2="361.5" stroke="#939393" stroke-width="1.0"/>
<line x1="362.1" y1="342.1" x2="407.3" y2="334" stroke="#818181" stroke-width="1.2"/>
<line x1="362.1" y1="372.3" x2="407.3" y2="380.4" stroke="#818181" stroke-width="1.2"/>
<line x1="379.5" y1="338.4" x2="379.5" y2="375.7" stroke="#939393" stroke-width="1.0"/>
<path d="M468.8,330.6 L407.3,330.6 L407.3,384.3 L468.8,384.3 A24.7,26.85 0 0 0 468.8,330.6" fill="none" stroke="#939393" stroke-width="1.0"/>
<line x1="306.5" y1="308.3" x2="306.5" y2="349.9" stroke="#aeaeae" stroke-width="1.2"/>
<line x1="306.2" y1="308.5" x2="329" y2="308.5" stroke="#919191" stroke-width="1.0"/>
<polygon points="306.20,326.50 305.30,324.50 304.60,318.50 307.80,318.50 307.10,324.50" fill="#111"/>
<polygon points="306.20,341.80 307.10,343.80 307.80,349.80 304.60,349.80 305.30,343.80" fill="#111"/>
<line x1="296" y1="327.5" x2="308.3" y2="327.5" stroke="#939393" stroke-width="1.0"/>
<line x1="300" y1="341.5" x2="312" y2="341.5" stroke="#939393" stroke-width="1.0"/>
<text x="321" y="306" font-family="Liberation Serif" font-size="11" text-anchor="middle" fill="#111" stroke="#111" stroke-width="0.5" textLength="16.6" lengthAdjust="spacingAndGlyphs" xml:space="preserve">6. 6</text>
<line x1="296.5" y1="381" x2="296.5" y2="417" stroke="#939393" stroke-width="1.0"/>
<line x1="340.5" y1="381" x2="340.5" y2="417" stroke="#939393" stroke-width="1.0"/>
<line x1="296.5" y1="414.5" x2="340.5" y2="414.5" stroke="#919191" stroke-width="1.0"/>
<polygon points="297.00,414.50 299.00,413.60 305.00,412.90 305.00,416.10 299.00,415.40" fill="#111"/>
<polygon points="340.00,414.50 338.00,415.40 332.00,416.10 332.00,412.90 338.00,413.60" fill="#111"/>
<text x="318.2" y="412.7" font-family="Liberation Serif" font-size="11" text-anchor="middle" fill="#111" stroke="#111" stroke-width="0.5" textLength="11" lengthAdjust="spacingAndGlyphs" xml:space="preserve">21</text>
<line x1="291.5" y1="381" x2="291.5" y2="436" stroke="#b6b6b6" stroke-width="1.0"/>
<line x1="345.5" y1="381" x2="345.5" y2="436" stroke="#b6b6b6" stroke-width="1.0"/>
<line x1="291.6" y1="433.5" x2="345.3" y2="433.5" stroke="#919191" stroke-width="1.0"/>
<polygon points="292.10,433.20 294.10,432.30 300.10,431.60 300.10,434.80 294.10,434.10" fill="#111"/>
<polygon points="344.80,433.20 342.80,434.10 336.80,434.80 336.80,431.60 342.80,432.30" fill="#111"/>
<text x="318.2" y="431" font-family="Liberation Serif" font-size="11" text-anchor="middle" fill="#111" stroke="#111" stroke-width="0.5" textLength="11" lengthAdjust="spacingAndGlyphs" xml:space="preserve">26</text>
<line x1="276.5" y1="389" x2="276.5" y2="453" stroke="#939393" stroke-width="1.0"/>
<line x1="359.5" y1="389" x2="359.5" y2="453" stroke="#939393" stroke-width="1.0"/>
<line x1="276.4" y1="450.5" x2="359.5" y2="450.5" stroke="#919191" stroke-width="1.0"/>
<polygon points="276.90,450.50 278.90,449.60 284.90,448.90 284.90,452.10 278.90,451.40" fill="#111"/>
<polygon points="359.00,450.50 357.00,451.40 351.00,452.10 351.00,448.90 357.00,449.60" fill="#111"/>
<text x="318.4" y="449.3" font-family="Liberation Serif" font-size="11" text-anchor="middle" fill="#111" stroke="#111" stroke-width="0.5" textLength="22.4" lengthAdjust="spacingAndGlyphs" xml:space="preserve">38. 5</text>
</svg></div>
</body></html>
